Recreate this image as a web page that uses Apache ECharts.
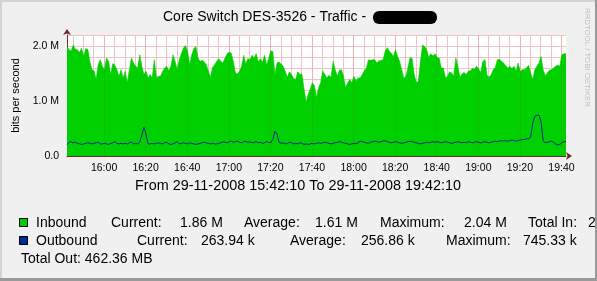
<!DOCTYPE html>
<html><head><meta charset="utf-8">
<script src="https://cdn.jsdelivr.net/npm/echarts@6/dist/echarts.min.js"></script>
<style>html,body{margin:0;padding:0;background:#f0f0f0;overflow:hidden}#c{width:597px;height:281px}</style>
</head><body><div id="c"></div>
<script>
// ---- data ----
const startTime = '15:42:10';
const stepMinutes = 1;
// Inbound, Mbit/s, one value per minute
const inbound = [
1.99,1.93,1.91,2.02,1.94,1.93,1.88,1.96,1.81,1.95,
1.94,1.72,1.57,1.55,1.39,1.66,1.75,1.63,1.57,1.78,
1.72,1.48,1.68,1.65,1.57,1.45,1.57,1.42,1.54,1.33,
1.57,1.78,1.69,1.63,1.60,1.84,1.63,1.48,1.54,1.42,
1.48,1.42,1.75,1.42,1.45,1.45,1.54,1.60,1.63,1.55,
1.63,1.84,1.72,1.57,1.75,1.86,1.96,2.01,1.90,1.66,
1.84,1.95,1.99,1.78,1.72,1.74,1.71,1.66,1.54,1.43,
1.61,1.66,1.72,1.77,1.72,1.69,1.78,1.86,1.89,1.87,
1.72,1.51,1.49,1.54,1.63,1.83,1.67,1.77,1.75,1.83,
1.78,1.86,1.71,1.77,1.70,1.83,1.66,1.77,1.91,1.90,
1.48,1.69,1.71,1.67,1.63,1.53,1.43,1.53,1.48,1.41,
1.39,1.53,1.48,1.49,1.22,0.98,1.12,1.22,1.33,1.28,
1.06,1.24,1.33,1.55,1.48,1.42,1.47,1.43,1.72,1.57,
1.45,1.56,1.57,1.45,1.24,1.33,1.39,1.33,1.45,1.37,
1.42,1.42,1.48,1.55,1.60,1.75,1.74,1.75,1.75,1.69,
1.73,1.73,1.75,1.90,1.97,1.91,1.87,1.81,1.93,1.81,
1.72,1.57,1.41,1.45,1.61,1.79,1.77,1.48,1.33,1.36,
1.72,2.02,1.99,1.93,1.79,1.86,1.82,1.86,1.79,1.78,
1.60,1.60,1.42,1.45,1.53,1.51,1.45,1.78,1.63,1.43,
1.49,1.52,1.48,1.54,1.55,1.59,1.58,1.63,1.58,1.52,
1.72,1.75,1.47,1.43,1.48,1.57,1.61,1.75,1.76,1.72,
1.69,1.64,1.60,1.63,1.59,1.63,1.54,1.69,1.53,1.57,
1.57,1.60,1.65,1.51,1.39,1.57,1.63,1.69,1.81,1.57,
1.46,1.51,1.56,1.57,1.60,1.63,1.65,1.63,1.84,1.86,
1.86
];
// Outbound, Mbit/s, one value per minute
const outbound = [
0.21,0.25,0.26,0.24,0.25,0.23,0.22,0.21,0.22,0.23,
0.24,0.23,0.22,0.23,0.24,0.25,0.22,0.22,0.23,0.22,
0.21,0.23,0.24,0.26,0.23,0.22,0.23,0.22,0.23,0.22,
0.24,0.25,0.22,0.23,0.22,0.25,0.38,0.52,0.40,0.22,
0.22,0.23,0.22,0.23,0.24,0.23,0.22,0.24,0.25,0.22,
0.21,0.22,0.24,0.26,0.22,0.23,0.24,0.23,0.22,0.24,
0.23,0.22,0.21,0.22,0.23,0.24,0.25,0.24,0.23,0.22,
0.23,0.22,0.22,0.23,0.24,0.26,0.25,0.24,0.26,0.27,
0.25,0.26,0.27,0.25,0.24,0.26,0.27,0.25,0.26,0.24,
0.25,0.26,0.24,0.25,0.23,0.24,0.26,0.25,0.24,0.30,
0.45,0.40,0.25,0.23,0.24,0.22,0.23,0.25,0.24,0.22,
0.23,0.22,0.24,0.23,0.21,0.22,0.21,0.22,0.23,0.22,
0.23,0.24,0.23,0.24,0.25,0.24,0.23,0.22,0.23,0.24,
0.25,0.26,0.25,0.24,0.23,0.22,0.21,0.22,0.23,0.22,
0.24,0.27,0.26,0.25,0.24,0.23,0.25,0.26,0.27,0.26,
0.25,0.26,0.27,0.28,0.26,0.25,0.24,0.25,0.26,0.25,
0.24,0.23,0.24,0.25,0.26,0.27,0.26,0.25,0.24,0.23,
0.22,0.23,0.24,0.25,0.24,0.25,0.26,0.25,0.26,0.25,
0.24,0.25,0.26,0.25,0.24,0.23,0.24,0.25,0.26,0.25,
0.24,0.25,0.24,0.26,0.25,0.24,0.25,0.26,0.25,0.24,
0.25,0.26,0.25,0.24,0.25,0.26,0.27,0.26,0.27,0.28,
0.27,0.28,0.27,0.28,0.29,0.28,0.27,0.28,0.29,0.30,
0.30,0.31,0.31,0.34,0.60,0.72,0.74,0.745,0.62,0.28,
0.24,0.25,0.26,0.27,0.25,0.22,0.20,0.21,0.24,0.26,
0.264
];
const xTickLabels = ['16:00','16:20','16:40','17:00','17:20','17:40','18:00','18:20','18:40','19:00','19:20','19:40'];
const yTickValues = [0, 1, 2];
const yTickLabels = ['0.0', '1.0 M', '2.0 M'];
const titleText = 'Core Switch DES-3526 - Traffic - ';
const rangeText = 'From 29-11-2008 15:42:10 To 29-11-2008 19:42:10';
const legendRow1 = ['Inbound', 'Current:', '1.86 M', 'Average:', '1.61 M', 'Maximum:', '2.04 M', 'Total In:', '2.'];
const legendRow2 = ['Outbound', 'Current:', '263.94 k', 'Average:', '256.86 k', 'Maximum:', '745.33 k'];
const legendRow3 = ['Total Out: 462.36 MB'];

// ---- layout ----
const row1X = [36, 111, 180, 244, 315, 380, 464, 528, 588];
const row2X = [36, 137, 201, 290, 361, 446, 523];
const FONT = '"Liberation Sans", Arial, sans-serif';
const GREEN = '#00CF00', BLUE = '#002A97';

function toMin(s) { const p = s.split(':').map(Number); return p[0] * 60 + p[1] + (p[2] || 0) / 60; }
const t0 = toMin(startTime);
const inData = inbound.map((v, i) => [t0 + i * stepMinutes, v * 1e6]);
const outData = outbound.map((v, i) => [t0 + i * stepMinutes, v * 1e6]);
const tEnd = t0 + (inbound.length - 1) * stepMinutes;
const labelMins = xTickLabels.map(toMin);
const minorMins = [];
for (let m = Math.ceil(t0 / 5) * 5; m <= tEnd; m += 5) minorMins.push(m);

const M = 1e6;
const chart = echarts.init(document.getElementById('c'), null, { renderer: 'canvas' });

const txt = (text, x, y, size, extra) => ({
  type: 'text', x: x, y: y, silent: true,
  style: Object.assign({ text: text, fontSize: size, fontFamily: FONT, fill: '#000', align: 'left', verticalAlign: 'middle' }, (extra || {}))
});

const elements = [];
elements.push(txt(titleText, 163, 17, 14));
elements.push({ type: 'rect', shape: { x: 373, y: 11, width: 64, height: 13, r: 6 }, style: { fill: '#000' }, silent: true });
elements.push({ type: 'text', x: 587, y: 8, rotation: -Math.PI / 2, silent: true,
  style: { text: 'RRDTOOL / TOBI OETIKER', fontSize: 7.8, fontFamily: FONT, fill: '#bdbdbd', align: 'left', verticalAlign: 'middle' } });
elements.push(txt(rangeText, 298, 186, 14.4, { align: 'center' }));
elements.push({ type: 'rect', shape: { x: 19.5, y: 218.5, width: 8, height: 8 }, style: { fill: GREEN, stroke: '#000', lineWidth: 1 }, silent: true });
elements.push({ type: 'rect', shape: { x: 19.5, y: 236.5, width: 8, height: 8 }, style: { fill: BLUE, stroke: '#000', lineWidth: 1 }, silent: true });
legendRow1.forEach((s, i) => elements.push(txt(s, row1X[i], 223, 14)));
legendRow2.forEach((s, i) => elements.push(txt(s, row2X[i], 241, 14)));
legendRow3.forEach((s) => elements.push(txt(s, 21, 259, 14)));
// 3D frame
elements.push({ type: 'rect', shape: { x: 0, y: 0, width: 597, height: 2 }, style: { fill: '#d4d4d4' }, silent: true });
elements.push({ type: 'rect', shape: { x: 0, y: 0, width: 2, height: 281 }, style: { fill: '#d4d4d4' }, silent: true });
elements.push({ type: 'rect', shape: { x: 595, y: 0, width: 2, height: 281 }, style: { fill: '#9a9a9a' }, silent: true });
elements.push({ type: 'rect', shape: { x: 0, y: 278, width: 597, height: 3 }, style: { fill: '#9a9a9a' }, silent: true });

const hhmm = v => { const h = Math.floor(Math.round(v) / 60), m = Math.round(v) % 60; return h + ':' + String(m).padStart(2, '0'); };

chart.setOption({
  animation: false,
  backgroundColor: '#f0f0f0',
  grid: { left: 67, right: 31, top: 35, bottom: 125, show: true, backgroundColor: '#ffffff', borderWidth: 0, containLabel: false, outerBoundsMode: 'none' },
  xAxis: [{
    type: 'value', min: t0, max: tEnd, position: 'bottom',
    axisLine: { show: true, onZero: false, lineStyle: { color: '#6a2a2a', width: 1 }, symbol: ['none', 'arrow'], symbolSize: [6, 6], symbolOffset: [0, 6] },
    axisTick: { show: false, customValues: minorMins },
    axisLabel: { customValues: labelMins, formatter: v => xTickLabels[labelMins.indexOf(v)] || hhmm(v), fontSize: 10.5, fontFamily: FONT, color: '#000', margin: 7 },
    splitLine: { show: true, lineStyle: { color: '#efc4c4', width: 1 } }
  }, {
    type: 'value', min: t0, max: tEnd, position: 'top', z: 5,
    axisLine: { show: false }, axisLabel: { show: false },
    axisTick: { show: false, customValues: labelMins },
    splitLine: { show: true, lineStyle: { color: 'rgba(190,0,0,0.08)', width: 1 } }
  }],
  yAxis: {
    type: 'value', min: 0, max: 2.2 * M, interval: 0.2 * M,
    name: 'bits per second', nameLocation: 'middle', nameGap: 46, nameRotate: 90,
    nameTextStyle: { fontSize: 11, fontFamily: FONT, color: '#000' },
    axisLine: { show: true, onZero: false, lineStyle: { color: '#6a2a2a', width: 1 }, symbol: ['none', 'arrow'], symbolSize: [6, 6], symbolOffset: [0, 6] },
    axisTick: { show: false },
    axisLabel: { customValues: yTickValues.map(v => v * M), formatter: v => yTickLabels[yTickValues.indexOf(v / M)], fontSize: 10.5, fontFamily: FONT, color: '#000', margin: 8 },
    splitLine: { show: true, lineStyle: { color: '#efc4c4', width: 1 } }
  },
  series: [{
    name: 'Inbound', type: 'line', data: inData, showSymbol: false, symbol: 'none',
    lineStyle: { width: 0.6, color: GREEN }, areaStyle: { color: GREEN, opacity: 1 }, z: 2
  }, {
    name: 'Outbound', type: 'line', data: outData, showSymbol: false, symbol: 'none',
    lineStyle: { width: 1, color: BLUE }, z: 3
  }],
  graphic: { elements: elements }
});
</script>
</body></html>
